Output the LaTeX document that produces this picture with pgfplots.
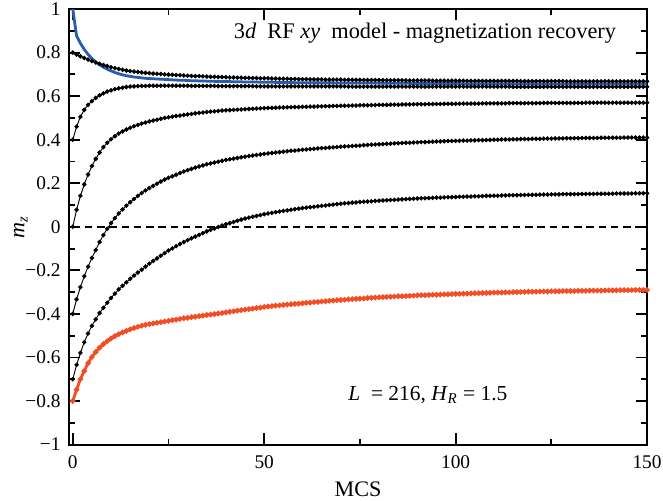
\documentclass[border=0pt]{standalone}
\usepackage{fontspec}
\setmainfont{Liberation Serif}
\usepackage{pgfplots}
\usepackage{pgfplotstable}
\pgfplotsset{compat=1.18}
\definecolor{recblue}{RGB}{40,92,172}
\definecolor{recred}{RGB}{242,78,38}

% magnetization m_z after each Monte Carlo sweep, one column per initial state
\pgfplotstableread{
t A B C D E F R
0 1.000 .800 .400 .000 -.400 -.700 -.800
1 .877 .791 .460 .078 -.333 -.634 -.748
2 .843 .783 .505 .142 -.277 -.579 -.700
3 .815 .775 .537 .195 -.227 -.530 -.662
4 .792 .768 .560 .240 -.183 -.490 -.626
5 .773 .761 .577 .279 -.143 -.455 -.598
6 .757 .755 .592 .312 -.107 -.425 -.575
7 .744 .749 .604 .341 -.070 -.396 -.555
8 .733 .743 .613 .366 -.038 -.372 -.539
9 .724 .738 .621 .386 -.009 -.349 -.525
10 .716 .733 .627 .402 .017 -.327 -.513
11 .709 .729 .632 .416 .040 -.307 -.502
12 .703 .725 .636 .428 .061 -.287 -.493
13 .698 .721 .639 .438 .080 -.271 -.485
14 .694 .718 .642 .447 .097 -.255 -.478
15 .691 .715 .644 .455 .113 -.239 -.471
16 .688 .713 .645 .462 .128 -.224 -.465
17 .686 .711 .646 .468 .142 -.210 -.459
18 .684 .709 .647 .474 .155 -.197 -.454
19 .682 .707 .647 .479 .167 -.183 -.450
20 .681 .706 .648 .484 .178 -.169 -.447
21 .680 .704 .648 .488 .188 -.157 -.444
22 .679 .703 .648 .492 .198 -.145 -.441
23 .678 .702 .648 .496 .208 -.133 -.438
24 .677 .700 .648 .500 .217 -.121 -.435
25 .676 .699 .648 .503 .225 -.109 -.432
26 .675 .698 .648 .506 .232 -.099 -.429
27 .674 .697 .648 .509 .239 -.089 -.426
28 .673 .696 .648 .511 .247 -.079 -.423
29 .673 .695 .648 .514 .254 -.070 -.420
30 .672 .694 .648 .516 .260 -.061 -.418
31 .671 .693 .647 .518 .266 -.053 -.415
32 .671 .692 .647 .521 .272 -.045 -.413
33 .670 .692 .647 .523 .277 -.037 -.410
34 .670 .691 .647 .525 .282 -.029 -.408
35 .669 .690 .647 .527 .287 -.021 -.405
36 .669 .689 .647 .529 .291 -.014 -.403
37 .668 .689 .647 .530 .295 -.008 -.401
38 .668 .688 .646 .532 .299 -.001 -.398
39 .667 .688 .646 .534 .303 .006 -.396
40 .667 .687 .646 .535 .307 .012 -.393
41 .667 .686 .646 .536 .310 .017 -.390
42 .666 .686 .646 .537 .313 .022 -.388
43 .666 .685 .646 .538 .316 .028 -.385
44 .666 .685 .646 .539 .319 .033 -.383
45 .665 .684 .646 .540 .322 .038 -.380
46 .665 .684 .646 .541 .325 .042 -.378
47 .665 .683 .646 .542 .327 .046 -.376
48 .665 .683 .645 .543 .330 .050 -.373
49 .664 .682 .645 .544 .332 .054 -.371
50 .664 .682 .645 .545 .335 .058 -.368
51 .664 .682 .645 .546 .337 .061 -.366
52 .664 .681 .645 .546 .339 .064 -.364
53 .663 .681 .645 .547 .341 .067 -.362
54 .663 .680 .645 .548 .343 .070 -.361
55 .663 .680 .645 .548 .345 .073 -.359
56 .663 .680 .645 .549 .347 .075 -.357
57 .663 .679 .645 .549 .349 .078 -.356
58 .662 .679 .645 .550 .350 .081 -.354
59 .662 .678 .645 .550 .352 .083 -.353
60 .662 .678 .645 .551 .354 .086 -.351
61 .662 .678 .645 .551 .355 .088 -.349
62 .662 .677 .645 .552 .357 .090 -.348
63 .661 .677 .645 .552 .358 .092 -.346
64 .661 .677 .645 .553 .360 .094 -.345
65 .661 .677 .645 .553 .361 .096 -.343
66 .661 .676 .645 .554 .362 .098 -.342
67 .661 .676 .645 .554 .364 .100 -.340
68 .661 .676 .645 .555 .365 .102 -.339
69 .660 .676 .645 .555 .366 .104 -.337
70 .660 .676 .645 .556 .368 .106 -.336
71 .660 .675 .645 .556 .369 .108 -.335
72 .660 .675 .644 .556 .370 .109 -.333
73 .660 .675 .644 .557 .371 .111 -.332
74 .660 .675 .644 .557 .372 .112 -.331
75 .660 .675 .644 .558 .373 .114 -.330
76 .660 .674 .644 .558 .375 .115 -.329
77 .660 .674 .644 .558 .376 .116 -.327
78 .660 .674 .644 .559 .377 .117 -.326
79 .660 .674 .644 .559 .378 .119 -.325
80 .660 .674 .644 .560 .379 .120 -.324
81 .659 .673 .644 .560 .380 .121 -.323
82 .659 .673 .644 .560 .381 .122 -.322
83 .659 .673 .644 .561 .382 .123 -.321
84 .659 .673 .644 .561 .383 .124 -.320
85 .659 .673 .644 .561 .384 .125 -.319
86 .659 .673 .644 .562 .385 .126 -.319
87 .659 .672 .644 .562 .386 .127 -.318
88 .659 .672 .644 .562 .386 .128 -.317
89 .658 .672 .644 .563 .387 .129 -.316
90 .658 .672 .644 .563 .388 .130 -.315
91 .658 .672 .644 .563 .389 .131 -.314
92 .658 .672 .644 .563 .389 .131 -.314
93 .658 .672 .644 .564 .390 .132 -.313
94 .658 .671 .644 .564 .391 .133 -.312
95 .658 .671 .644 .564 .392 .134 -.312
96 .658 .671 .644 .564 .392 .134 -.311
97 .658 .671 .644 .565 .393 .135 -.310
98 .658 .671 .644 .565 .394 .136 -.310
99 .658 .671 .644 .565 .394 .136 -.309
100 .658 .671 .644 .565 .395 .137 -.308
101 .658 .671 .644 .565 .395 .138 -.308
102 .657 .671 .644 .566 .396 .138 -.307
103 .657 .670 .644 .566 .396 .139 -.307
104 .657 .670 .644 .566 .397 .139 -.306
105 .657 .670 .644 .566 .397 .140 -.305
106 .657 .670 .644 .566 .398 .140 -.305
107 .657 .670 .644 .567 .398 .141 -.304
108 .657 .670 .644 .567 .399 .142 -.304
109 .657 .670 .644 .567 .399 .142 -.303
110 .657 .670 .644 .567 .400 .143 -.302
111 .657 .670 .644 .567 .400 .143 -.302
112 .657 .670 .644 .567 .401 .144 -.302
113 .657 .670 .644 .567 .401 .144 -.301
114 .657 .670 .644 .568 .401 .145 -.301
115 .657 .670 .643 .568 .402 .145 -.300
116 .657 .670 .643 .568 .402 .145 -.300
117 .657 .669 .643 .568 .403 .146 -.299
118 .657 .669 .643 .568 .403 .146 -.299
119 .657 .669 .643 .568 .403 .147 -.298
120 .657 .669 .643 .568 .404 .147 -.298
121 .656 .669 .643 .568 .404 .147 -.298
122 .656 .669 .643 .568 .404 .148 -.297
123 .656 .669 .643 .569 .405 .148 -.297
124 .656 .669 .643 .569 .405 .148 -.297
125 .656 .669 .643 .569 .405 .149 -.296
126 .656 .669 .643 .569 .406 .149 -.296
127 .656 .669 .643 .569 .406 .149 -.296
128 .656 .669 .643 .569 .406 .150 -.295
129 .656 .668 .643 .569 .407 .150 -.295
130 .656 .668 .643 .569 .407 .150 -.295
131 .656 .668 .643 .569 .407 .150 -.295
132 .656 .668 .643 .569 .407 .150 -.294
133 .656 .668 .643 .569 .408 .151 -.294
134 .656 .668 .643 .570 .408 .151 -.294
135 .656 .668 .643 .570 .408 .151 -.293
136 .656 .668 .643 .570 .408 .151 -.293
137 .656 .668 .643 .570 .408 .152 -.293
138 .656 .668 .643 .570 .409 .152 -.293
139 .656 .668 .643 .570 .409 .152 -.292
140 .656 .668 .643 .570 .409 .152 -.292
141 .656 .668 .643 .570 .409 .152 -.292
142 .656 .668 .643 .570 .409 .153 -.292
143 .656 .668 .643 .570 .409 .153 -.291
144 .656 .668 .643 .570 .410 .153 -.291
145 .656 .668 .643 .570 .410 .153 -.291
146 .656 .668 .643 .570 .410 .153 -.291
147 .656 .668 .643 .570 .410 .154 -.290
148 .656 .668 .643 .570 .410 .154 -.290
149 .656 .668 .643 .570 .410 .154 -.290
150 .656 .668 .643 .570 .410 .154 -.290
}\recovery

\begin{document}
\fontsize{12}{14.4}\selectfont
\begin{tikzpicture}
\begin{axis}[
  name=ax,
  scale only axis,
  width=312bp, height=235bp,
  xmin=-1, xmax=150, ymin=-1, ymax=1,
  xtick={0,50,100,150},
  xticklabels={0,50,100,150},
  minor xtick={25,75,125},
  ytick={-1,-0.8,-0.6,-0.4,-0.2,0,0.2,0.4,0.6,0.8,1},
  yticklabels={−1,−0.8,−0.6,−0.4,−0.2,0,0.2,0.4,0.6,0.8,1},
  minor ytick={-0.9,-0.7,-0.5,-0.3,-0.1,0.1,0.3,0.5,0.7,0.9},
  xtick pos=both, ytick pos=both,
  xticklabel pos=lower, yticklabel pos=left,
  tick align=inside,
  major tick length=6bp, minor tick length=3.2bp,
  axis line style={line width=1.1bp},
  every tick/.style={black, line width=1bp},
  ticklabel style={font=\fontsize{10.5}{12}\selectfont},
  yticklabel style={inner xsep=0pt, xshift=-4.3bp},
  xticklabel style={inner ysep=0pt, yshift=-6bp},
  xlabel={MCS},
  ylabel={\textit{m}\textsubscript{\textit{z}}},
  xlabel style={at={([yshift=-28.3bp]axis description cs:0.5,0)}, anchor=base, inner sep=0pt},
  ylabel style={at={([xshift=-26bp]axis description cs:0,0.5)}, anchor=center, rotate=0, inner sep=0pt},
  clip=false,
]
% zero line
\addplot[black, line width=1.1bp, dash pattern=on 4bp off 2.6bp] coordinates {(0,0) (150,0)};
% m_z(0) = 1
\addplot[recblue, line width=1.5bp, no marks] table[x=t, y=A] {\recovery};
% intermediate initial states
\foreach \col in {B,C,D,E,F} {
  \addplot[black, line width=0.5bp, mark=*, mark size=0.95bp] table[x=t, y=\col] {\recovery};
}
% m_z(0) = -0.8
\addplot[recred, line width=1.5bp, mark=*, mark size=0.6bp, mark options={fill=recred, draw=recred}] table[x=t, y=R] {\recovery};

\node[anchor=base east, inner sep=0pt, font=\fontsize{12.1}{14.5}\selectfont]
  at (axis cs:142,0.864) {3\textit{d}~ RF \textit{xy}~ model - magnetization recovery};
\node[anchor=base east, inner sep=0pt, font=\fontsize{11.6}{14}\selectfont]
  at (axis cs:113.6,-0.797) {\textit{L}~ = 216, \textit{H}\textsubscript{\textit{R}} = 1.5};
\end{axis}
\pgfresetboundingbox
\path[use as bounding box] ([shift={(-37.2bp,-30.2bp)}]ax.south west) rectangle ([shift={(8.6bp,4.9bp)}]ax.north east);
\end{tikzpicture}
\end{document}
